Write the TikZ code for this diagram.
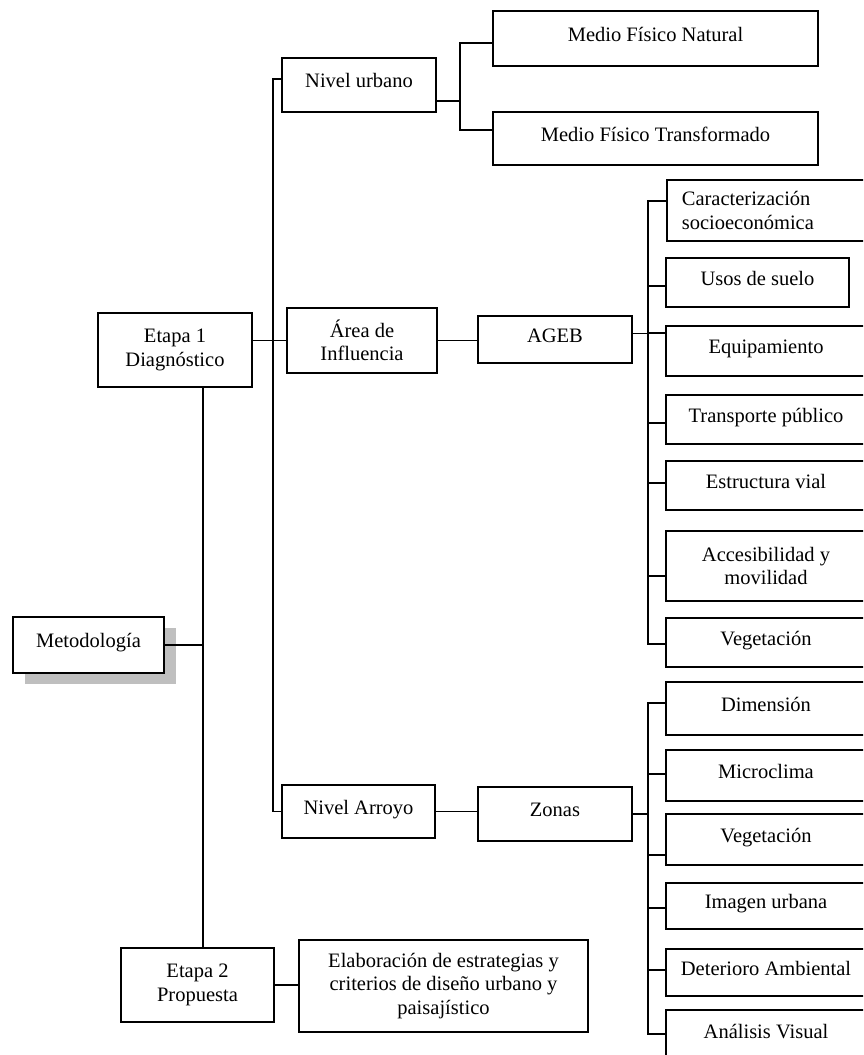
\documentclass[tikz,border=0pt]{standalone}
\usepackage{fontspec}
\setmainfont{Liberation Serif}
\usetikzlibrary{shadows}
\newcommand{\boxfont}{\fontsize{20.5}{23.5}\selectfont}
\tikzset{
  box/.style={draw=black, line width=1.7pt, fill=white, inner sep=0pt, font=\boxfont, align=center},
  one/.style={text height=14pt, text depth=9pt},
  rbox/.style={box, one, minimum width=200pt},
  conn/.style={draw=black, line width=1.6pt, line join=miter}
}
\begin{document}
\begin{tikzpicture}[x=1pt,y=-1pt]
\useasboundingbox (0,0) rectangle (863,1055);
\clip (0,0) rectangle (863,1055);
\coordinate (t1) at (203,0);
\coordinate (t2) at (273,0);
\coordinate (b1) at (460,0);
\coordinate (b2) at (648,0);

% left column
\node[box, one, minimum width=151pt, minimum height=56pt,
      drop shadow={shadow xshift=12pt, shadow yshift=-11pt, fill=black!25, opacity=1}]
      (meto) at (88.5,645) {Metodología};
\node[box, minimum width=154pt, minimum height=74pt] (e1) at (175,350) {Etapa 1\\Diagnóstico};
\node[box, minimum width=153pt, minimum height=74pt] (e2) at (197.5,985) {Etapa 2\\Propuesta};
\node[box, minimum width=289pt, minimum height=92pt] (elab) at (443.5,986)
  {Elaboración de estrategias y\\criterios de diseño urbano y\\paisajístico};

% second column
\node[box, one, minimum width=154pt, minimum height=54pt] (nu) at (359,85) {Nivel urbano};
\node[box, minimum width=150pt, minimum height=65pt] (area) at (362,340.5) {Área de\\Influencia};
\node[box, one, minimum width=153pt, minimum height=53pt] (na) at (358.5,811.5) {Nivel Arroyo};

% third column
\node[box, one, minimum width=325pt, minimum height=55pt] (mfn) at (655.5,38.5) {Medio Físico Natural};
\node[box, one, minimum width=325pt, minimum height=53pt] (mft) at (655.5,138.5) {Medio Físico Transformado};
\node[box, one, minimum width=154pt, minimum height=47pt] (ageb) at (555,339.5) {AGEB};
\node[box, one, minimum width=154pt, minimum height=54pt] (zonas) at (555,814) {Zonas};

% right column, upper group
\node[box, anchor=west, align=left, text width=170pt, inner xsep=15pt, minimum height=61pt]
  (car) at (666,210.5) {Caracterización\\socioeconómica};
\node[box, one, minimum width=183pt, minimum height=49pt] (usos) at (757.5,282.5) {Usos de suelo};
\node[rbox, minimum height=50pt] (equip) at (766,351) {Equipamiento};
\node[rbox, minimum height=49pt] (trans) at (766,419.5) {Transporte público};
\node[rbox, minimum height=49pt] (estr) at (766,485.5) {Estructura vial};
\node[box, minimum width=200pt, minimum height=70pt] (acc) at (766,566) {Accesibilidad y\\movilidad};
\node[rbox, minimum height=49pt] (veg1) at (766,642.5) {Vegetación};

% right column, lower group
\node[rbox, minimum height=53pt] (dim) at (766,708.5) {Dimensión};
\node[rbox, minimum height=51pt] (micro) at (766,775.5) {Microclima};
\node[rbox, minimum height=51pt] (veg2) at (766,839.5) {Vegetación};
\node[rbox, minimum height=46pt] (img) at (766,906) {Imagen urbana};
\node[rbox, minimum height=47pt] (det) at (766,972.5) {Deterioro Ambiental};
\node[rbox, minimum height=52pt] (ana) at (766,1036) {Análisis Visual};

% connectors: first trunk
\draw[conn] (e1.south -| t1) -- (e2.north -| t1);
\draw[conn] (meto.east) -- (meto.east -| t1);
\draw[conn] (e2.east) -- (elab.west |- e2.east);

% second trunk
\draw[conn] ([yshift=6pt]nu.west) -- ([yshift=6pt]nu.west -| t2) -- (na.west -| t2) -- (na.west);
\draw[conn] (e1.east |- area.west) -- (area.west);

% nivel urbano branch
\draw[conn] ([yshift=-16pt]nu.east) -- ([yshift=-16pt]nu.east -| b1);
\draw[conn] ([yshift=-4.5pt]mfn.west) -- ([yshift=-4.5pt]mfn.west -| b1)
  -- ([yshift=8.5pt]mft.west -| b1) -- ([yshift=8.5pt]mft.west);

% area / AGEB branch
\draw[conn] (area.east) -- (ageb.west |- area.east);
\draw[conn] ([yshift=6pt]ageb.east) -- ([yshift=6pt]ageb.east -| b2);
\draw[conn] ([yshift=9.5pt]car.west) -- ([yshift=9.5pt]car.west -| b2)
  -- ([yshift=-1.5pt]veg1.west -| b2) -- ([yshift=-1.5pt]veg1.west);
\draw[conn] ([yshift=-3.5pt]usos.west -| b2) -- ([yshift=-3.5pt]usos.west);
\draw[conn] ([yshift=18pt]equip.west -| b2) -- ([yshift=18pt]equip.west);
\draw[conn] ([yshift=-3.5pt]trans.west -| b2) -- ([yshift=-3.5pt]trans.west);
\draw[conn] ([yshift=2.5pt]estr.west -| b2) -- ([yshift=2.5pt]estr.west);
\draw[conn] ([yshift=-10pt]acc.west -| b2) -- ([yshift=-10pt]acc.west);

% nivel arroyo / zonas branch
\draw[conn] (na.east) -- (zonas.west |- na.east);
\draw[conn] (zonas.east) -- (zonas.east -| b2);
\draw[conn] ([yshift=5.5pt]dim.west) -- ([yshift=5.5pt]dim.west -| b2)
  -- ([yshift=2pt]ana.west -| b2) -- ([yshift=2pt]ana.west);
\draw[conn] ([yshift=1.5pt]micro.west -| b2) -- ([yshift=1.5pt]micro.west);
\draw[conn] ([yshift=-15.5pt]veg2.west -| b2) -- ([yshift=-15.5pt]veg2.west);
\draw[conn] ([yshift=-2pt]img.west -| b2) -- ([yshift=-2pt]img.west);
\draw[conn] ([yshift=2.5pt]det.west -| b2) -- ([yshift=2.5pt]det.west);
\end{tikzpicture}
\end{document}
